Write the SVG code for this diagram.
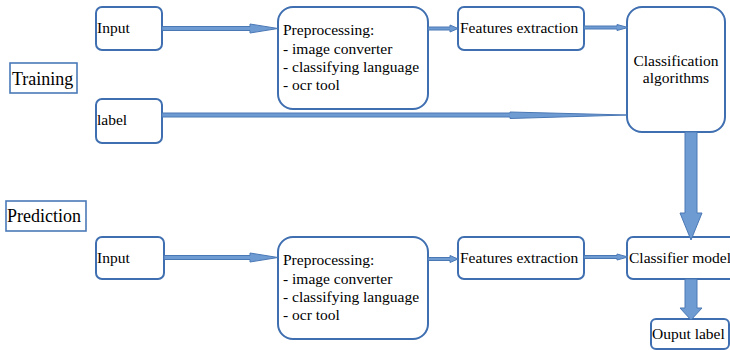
<svg xmlns="http://www.w3.org/2000/svg" width="730" height="350" viewBox="0 0 730 350">
<style>
.box{fill:#fff;stroke:#3f6fb0;stroke-width:2}
.sq{fill:#fff;stroke:#4a7ab8;stroke-width:1.6}
.t{font-family:"Liberation Serif","Times New Roman",serif;font-size:15.5px;fill:#000}
.big{font-size:18px}
.arr{fill:#6f9bd3;stroke:#4a78b5;stroke-width:1}
</style>
<rect width="730" height="350" fill="#fff"/>
<g id="training"><rect class="sq" x="10" y="63" width="67" height="30"/><text class="t big" x="12" y="85">Training</text></g>
<g id="prediction"><rect class="sq" x="6" y="201" width="80" height="30"/><text class="t big" x="7" y="222">Prediction</text></g>
<g id="input1"><rect class="box" x="96" y="7" width="66" height="43" rx="6"/><text class="t" x="97" y="33">Input</text></g>
<g id="label1"><rect class="box" x="96" y="99" width="66" height="44" rx="6"/><text class="t" x="97" y="125">label</text></g>
<g id="pre1"><rect class="box" x="278" y="7" width="150" height="102" rx="15"/>
<text class="t" x="283" y="35">Preprocessing:</text><text class="t" x="283" y="54">- image converter</text><text class="t" x="283" y="72">- classifying language</text><text class="t" x="283" y="90">- ocr tool</text></g>
<g id="feat1"><rect class="box" x="458" y="7" width="126" height="43" rx="6"/><text class="t" x="460" y="33">Features extraction</text></g>
<g id="classalg"><rect class="box" x="627" y="7" width="98" height="125" rx="15"/><text class="t" x="676" y="66" text-anchor="middle">Classification</text><text class="t" x="676" y="83" text-anchor="middle">algorithms</text></g>
<g id="input2"><rect class="box" x="96" y="237" width="68" height="42" rx="6"/><text class="t" x="97" y="263">Input</text></g>
<g id="pre2"><rect class="box" x="278" y="237" width="150" height="102" rx="15"/>
<text class="t" x="283" y="265">Preprocessing:</text><text class="t" x="283" y="284">- image converter</text><text class="t" x="283" y="302">- classifying language</text><text class="t" x="283" y="320">- ocr tool</text></g>
<g id="feat2"><rect class="box" x="458" y="237" width="126" height="42" rx="6"/><text class="t" x="460" y="263">Features extraction</text></g>
<g id="model"><rect class="box" x="627" y="237" width="110" height="42" rx="6"/><text class="t" x="629" y="263">Classifier model</text></g>
<g id="output"><rect class="box" x="651" y="319" width="78" height="30" rx="5"/><text class="t" x="652" y="339">Ouput label</text></g>
<g id="connectors">
<path class="arr" d="M162,26.5 H250 V24 L278,28.5 L250,33 V30.5 H162 Z"/>
<path class="arr" d="M162,113 H510 V112 L627,115 L510,118.5 V117 H162 Z"/>
<path class="arr" d="M428,27 H450 V25 L458,28.5 L450,32 V30 H428 Z"/>
<path class="arr" d="M584,26 H617 V24.5 L628,27.5 L617,30.5 V29 H584 Z"/>
<path class="arr" d="M685,132 H697 V213 H702 L691,240 L680,213 H685 Z"/>
<path class="arr" d="M164,255.5 H250 V253 L278,257.5 L250,262 V259.5 H164 Z"/>
<path class="arr" d="M428,257.5 H450 V255.5 L458,259 L450,262.5 V260.5 H428 Z"/>
<path class="arr" d="M584,255.5 H617 V254 L628,257 L617,260 V258.5 H584 Z"/>
<path class="arr" d="M685,279 H697 V308 H702 L691,320 L680,308 H685 Z"/>
</g>
</svg>
